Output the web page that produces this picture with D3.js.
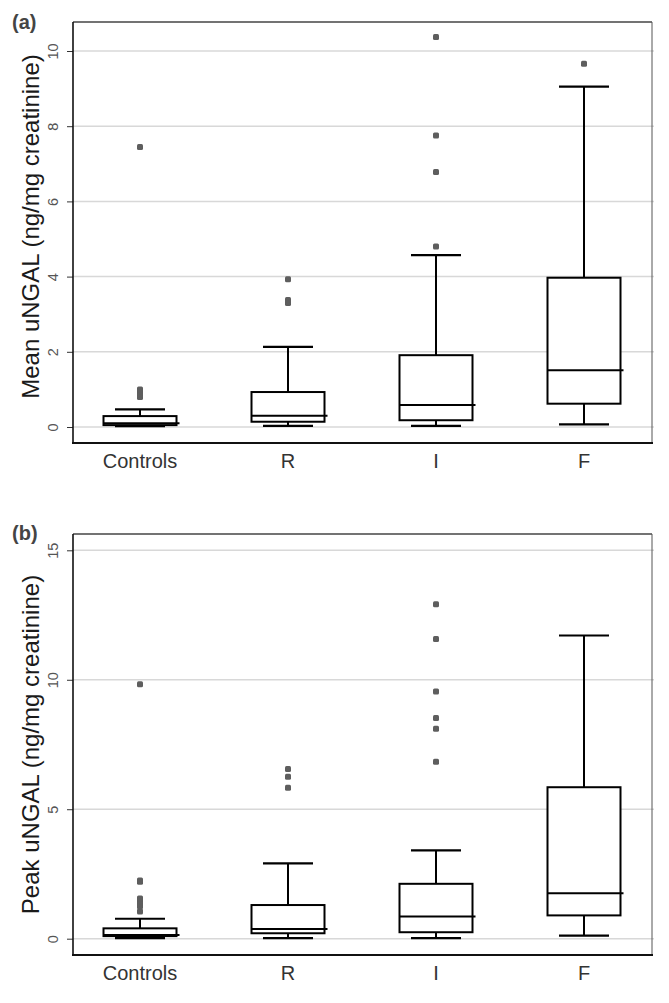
<!DOCTYPE html>
<html><head><meta charset="utf-8">
<script src="https://cdn.jsdelivr.net/npm/d3@7"></script>
<style>body{margin:0;background:#fff}svg{display:block}</style>
</head><body>
<svg id="c" width="669" height="1003"></svg>
<script>
const categories = ["Controls", "R", "I", "F"];
// [lower whisker, Q1, median, Q3, upper whisker]
const meanStats = [
  [0.02, 0.05, 0.10, 0.29, 0.47],
  [0.03, 0.14, 0.30, 0.93, 2.13],
  [0.03, 0.18, 0.585, 1.91, 4.57],
  [0.07, 0.62, 1.51, 3.97, 9.05]
];
const meanOutliers = [
  [0.8, 0.85, 0.9, 0.95, 1.0, 7.45],
  [3.3, 3.38, 3.93],
  [4.8, 6.78, 7.75, 10.37],
  [9.66]
];
const peakStats = [
  [0.02, 0.10, 0.14, 0.40, 0.77],
  [0.02, 0.21, 0.37, 1.30, 2.91],
  [0.02, 0.25, 0.86, 2.12, 3.41],
  [0.12, 0.90, 1.76, 5.85, 11.71]
];
const peakOutliers = [
  [1.05, 1.25, 1.35, 1.45, 1.55, 2.2, 2.25, 9.83],
  [5.83, 6.25, 6.55],
  [6.83, 8.11, 8.52, 9.55, 11.57, 12.92],
  []
];
const meanTicks = [0, 2, 4, 6, 8, 10];
const peakTicks = [0, 5, 10, 15];

const svg = d3.select("#c");
const font = "Arial, 'Liberation Sans', sans-serif";

function panel(cfg) {
  const g = svg.append("g");
  const x = d3.scalePoint().domain(categories).range([140, 584]);
  const y = d3.scaleLinear().domain(cfg.domain).range(cfg.range);
  const L = 73, R = 652, T = cfg.top, B = cfg.bottom;

  // gridlines
  g.append("g").selectAll("line").data(cfg.ticks).join("line")
    .attr("x1", L).attr("x2", R + 2)
    .attr("y1", d => y(d)).attr("y2", d => y(d))
    .attr("stroke", "#d8d8d8").attr("stroke-width", 1.5);

  // y axis
  const ax = g.append("g").attr("transform", `translate(${L},0)`)
    .call(d3.axisLeft(y).tickValues(cfg.ticks).tickSize(6).tickPadding(14).tickFormat(d3.format("d")));
  ax.select(".domain").remove();
  ax.selectAll(".tick line").attr("stroke", "#333").attr("stroke-width", 1);
  ax.selectAll(".tick text")
    .attr("font-family", font).attr("font-size", 14.5).attr("fill", "#555")
    .attr("text-anchor", "middle").attr("dy", 0).attr("x", 0)
    .attr("transform", "translate(-20,0) rotate(-90)")
    .attr("dominant-baseline", "central");

  // frame
  g.append("line").attr("x1", L).attr("x2", R).attr("y1", T).attr("y2", T).attr("stroke", "#444").attr("stroke-width", 1.3);
  g.append("line").attr("x1", R).attr("x2", R).attr("y1", T).attr("y2", B).attr("stroke", "#555").attr("stroke-width", 1);
  g.append("line").attr("x1", L).attr("x2", L).attr("y1", T).attr("y2", B).attr("stroke", "#111").attr("stroke-width", 1.6);
  g.append("line").attr("x1", L - 1).attr("x2", R + 1).attr("y1", B).attr("y2", B).attr("stroke", "#111").attr("stroke-width", 2);

  // x labels
  g.append("g").selectAll("text").data(categories).join("text")
    .attr("x", d => x(d)).attr("y", B + 25)
    .attr("text-anchor", "middle").attr("font-family", font).attr("font-size", 20).attr("fill", "#333")
    .text(d => d);

  // y title
  const midY = (T + B) / 2 + cfg.titleShift;
  g.append("text").attr("transform", `translate(39,${midY}) rotate(-90)`)
    .attr("text-anchor", "middle").attr("font-family", font).attr("font-size", 24).attr("fill", "#1a1a1a")
    .text(cfg.title);

  // panel letter
  g.append("text").attr("x", 12).attr("y", cfg.letterY)
    .attr("font-family", font).attr("font-size", 20).attr("font-weight", "bold").attr("fill", "#444")
    .text(cfg.letter);

  const bw = 73, cw = 50;
  const boxes = g.append("g").selectAll("g").data(cfg.stats).join("g");
  boxes.each(function(s, i) {
    const cx = x(categories[i]);
    const b = d3.select(this);
    b.append("line").attr("x1", cx).attr("x2", cx).attr("y1", y(s[0])).attr("y2", y(s[1])).attr("stroke", "#000").attr("stroke-width", 2);
    b.append("line").attr("x1", cx).attr("x2", cx).attr("y1", y(s[3])).attr("y2", y(s[4])).attr("stroke", "#000").attr("stroke-width", 2);
    b.append("line").attr("x1", cx - cw / 2).attr("x2", cx + cw / 2).attr("y1", y(s[0])).attr("y2", y(s[0])).attr("stroke", "#000").attr("stroke-width", 2.2);
    b.append("line").attr("x1", cx - cw / 2).attr("x2", cx + cw / 2).attr("y1", y(s[4])).attr("y2", y(s[4])).attr("stroke", "#000").attr("stroke-width", 2.2);
    b.append("rect").attr("x", cx - bw / 2).attr("width", bw)
      .attr("y", y(s[3])).attr("height", y(s[1]) - y(s[3]))
      .attr("fill", "#fff").attr("stroke", "#000").attr("stroke-width", 2);
    b.append("line").attr("x1", cx - bw / 2).attr("x2", cx + bw / 2 + 3).attr("y1", y(s[2])).attr("y2", y(s[2])).attr("stroke", "#000").attr("stroke-width", 2);
  });

  // outliers
  const pts = [];
  cfg.outliers.forEach((arr, i) => arr.forEach(v => pts.push({c: categories[i], v})));
  g.append("g").selectAll("rect").data(pts).join("rect")
    .attr("x", d => x(d.c) - 3).attr("y", d => y(d.v) - 3)
    .attr("width", 6).attr("height", 6).attr("rx", 1.5)
    .attr("fill", "#5e5e5e");
}

panel({domain: [0, 10], range: [427, 51], top: 22, bottom: 443, ticks: meanTicks,
  stats: meanStats, outliers: meanOutliers, title: "Mean uNGAL (ng/mg creatinine)",
  letter: "(a)", letterY: 29, titleShift: -6});
panel({domain: [0, 15], range: [938.7, 550.3], top: 534, bottom: 955, ticks: peakTicks,
  stats: peakStats, outliers: peakOutliers, title: "Peak uNGAL (ng/mg creatinine)",
  letter: "(b)", letterY: 540, titleShift: 0});
</script>
</body></html>
